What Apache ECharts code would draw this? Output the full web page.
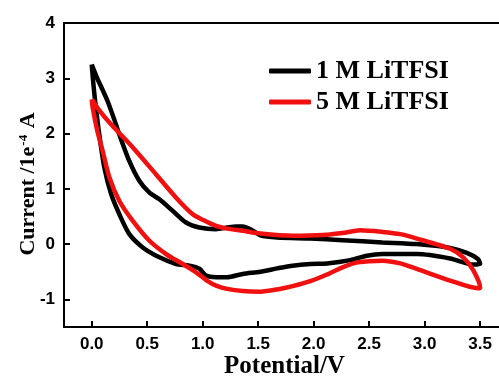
<!DOCTYPE html>
<html>
<head>
<meta charset="utf-8">
<script src="https://cdn.jsdelivr.net/npm/echarts@6/dist/echarts.min.js"></script>
<style>
  html, body { margin: 0; padding: 0; background: #fff; }
  #main { width: 499px; height: 377px; }
</style>
</head>
<body>
<div id="main"></div>
<script>
// series names
const seriesNames = ['1 M LiTFSI', '5 M LiTFSI'];

// [potential V, current 1e-4 A]
const cv1M = [
  [0, 3.25], [0.05, 3.0], [0.10, 2.78], [0.144, 2.58], [0.20, 2.27], [0.249, 1.98],
  [0.339, 1.50], [0.43, 1.14], [0.52, 0.93], [0.61, 0.81], [0.73, 0.60], [0.85, 0.39],
  [0.97, 0.30], [1.12, 0.27], [1.22, 0.30], [1.30, 0.32], [1.36, 0.32], [1.43, 0.27],
  [1.52, 0.16], [1.67, 0.12], [1.97, 0.10], [2.26, 0.07], [2.62, 0.03], [2.93, 0.0],
  [3.23, -0.07], [3.38, -0.16], [3.48, -0.27], [3.5, -0.36], [3.44, -0.37], [3.23, -0.26],
  [2.93, -0.18], [2.62, -0.18], [2.48, -0.21], [2.33, -0.29], [2.12, -0.35], [1.97, -0.36],
  [1.81, -0.39], [1.67, -0.44], [1.52, -0.50], [1.36, -0.54], [1.22, -0.60], [1.12, -0.60],
  [1.03, -0.57], [0.97, -0.445], [0.88, -0.39], [0.76, -0.36], [0.61, -0.24], [0.46, -0.06],
  [0.339, 0.18], [0.249, 0.54], [0.174, 0.91], [0.114, 1.38], [0.068, 1.98], [0.03, 2.6],
  [0.01, 3.0], [0, 3.25]
];

const cv5M = [
  [0, 2.62], [0.075, 2.40], [0.19, 2.13], [0.30, 1.90], [0.40, 1.68], [0.58, 1.26],
  [0.76, 0.84], [0.91, 0.54], [1.0, 0.44], [1.12, 0.33], [1.22, 0.28], [1.36, 0.24],
  [1.52, 0.19], [1.81, 0.15], [2.12, 0.17], [2.26, 0.20], [2.42, 0.25], [2.62, 0.22],
  [2.78, 0.18], [2.93, 0.10], [3.23, -0.085], [3.35, -0.245], [3.44, -0.48], [3.50, -0.79],
  [3.48, -0.80], [3.23, -0.66], [2.93, -0.45], [2.78, -0.35], [2.62, -0.30], [2.40, -0.33],
  [2.26, -0.42], [2.12, -0.55], [1.97, -0.67], [1.81, -0.76], [1.67, -0.82], [1.52, -0.86],
  [1.36, -0.85], [1.22, -0.81], [1.12, -0.75], [1.06, -0.69], [0.94, -0.51], [0.82, -0.36],
  [0.67, -0.18], [0.52, 0.06], [0.37, 0.42], [0.249, 0.78], [0.16, 1.20], [0.099, 1.68],
  [0.05, 2.05], [0.01, 2.45], [0, 2.62]
];

const xTicks = [0, 0.5, 1.0, 1.5, 2.0, 2.5, 3.0, 3.5];
const yTicks = [-1, 0, 1, 2, 3, 4];

const sansBold = { fontFamily: 'Liberation Sans', fontWeight: 'bold', color: '#000' };
const serifBold = { fontFamily: 'Liberation Serif', fontWeight: 'bold', color: '#000' };

const chart = echarts.init(document.getElementById('main'));

chart.setOption({
  animation: false,
  backgroundColor: '#fff',
  grid: { left: 64, top: 23, right: 0, bottom: 50, outerBoundsMode: 'none' },
  legend: {
    orient: 'vertical',
    left: 264,
    top: 53,
    icon: 'roundRect',
    itemWidth: 42,
    itemHeight: 5,
    itemGap: 5,
    data: seriesNames,
    textStyle: { ...serifBold, fontSize: 26 }
  },
  xAxis: [
    {
      type: 'value',
      min: -0.25,
      max: 3.67,
      name: 'Potential/V',
      nameLocation: 'middle',
      nameGap: 27,
      nameMoveOverlap: false,
      nameTextStyle: { ...serifBold, fontSize: 25, padding: [0, 0, 0, 6] },
      axisLine: { onZero: false, lineStyle: { color: '#000', width: 2 } },
      axisTick: { inside: true, length: 6, lineStyle: { width: 2 }, customValues: xTicks },
      axisLabel: {
        ...sansBold, fontSize: 17, margin: 9,
        customValues: xTicks,
        formatter: v => v.toFixed(1)
      },
      splitLine: { show: false }
    },
    {
      type: 'value',
      position: 'top',
      min: -0.25,
      max: 3.67,
      axisLine: { onZero: false, lineStyle: { color: '#000', width: 2 } },
      axisTick: { show: false },
      axisLabel: { show: false },
      splitLine: { show: false }
    }
  ],
  yAxis: {
    type: 'value',
    min: -1.5,
    max: 4,
    name: 'Current /1e{sup|-4} A',
    nameLocation: 'middle',
    nameRotate: 90,
    nameGap: 24,
    nameMoveOverlap: false,
    nameTextStyle: {
      ...serifBold, fontSize: 22, padding: [0, 18, 0, 0],
      rich: { sup: { ...serifBold, fontSize: 13, verticalAlign: 'top', padding: [0, 1, 10, 1] } }
    },
    axisLine: { onZero: false, lineStyle: { color: '#000', width: 2 } },
    axisTick: { inside: true, length: 6, lineStyle: { width: 2 }, customValues: yTicks },
    axisLabel: { ...sansBold, fontSize: 17, margin: 9, customValues: yTicks },
    splitLine: { show: false }
  },
  series: [
    {
      name: seriesNames[0],
      type: 'line',
      data: cv1M,
      smooth: 0.25,
      showSymbol: false,
      symbol: 'none',
      lineStyle: { color: '#000', width: 4.5 },
      itemStyle: { color: '#000' }
    },
    {
      name: seriesNames[1],
      type: 'line',
      data: cv5M,
      smooth: 0.25,
      showSymbol: false,
      symbol: 'none',
      lineStyle: { color: '#f01010', width: 4.5 },
      itemStyle: { color: '#f01010' }
    }
  ]
});
</script>
</body>
</html>
